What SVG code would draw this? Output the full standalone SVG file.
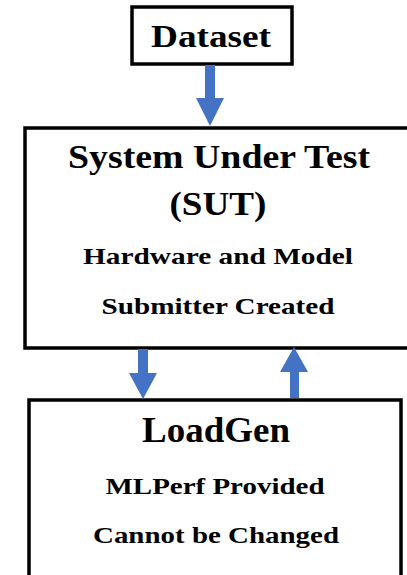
<svg xmlns="http://www.w3.org/2000/svg" width="407" height="575" viewBox="0 0 407 575">
<style>
.box{fill:#fff;stroke:#000;stroke-width:3.5}
.t{font-family:"Liberation Serif","Times New Roman",serif;font-weight:bold;fill:#000;text-anchor:middle}
.arr{fill:#4472C4}
</style>
<rect width="407" height="575" fill="#fff"/>
<g id="dataset">
<rect class="box" x="132" y="7" width="160" height="57"/>
<text class="t" x="211" y="47" font-size="32" textLength="120" lengthAdjust="spacingAndGlyphs">Dataset</text>
</g>
<g id="sut">
<rect class="box" x="25" y="128" width="390" height="220"/>
<text class="t" x="219" y="168" font-size="33" textLength="302" lengthAdjust="spacingAndGlyphs">System Under Test</text>
<text class="t" x="218" y="215" font-size="33" textLength="97" lengthAdjust="spacingAndGlyphs">(SUT)</text>
<text class="t" x="218" y="264" font-size="23" textLength="270" lengthAdjust="spacingAndGlyphs">Hardware and Model</text>
<text class="t" x="218" y="314" font-size="23" textLength="233" lengthAdjust="spacingAndGlyphs">Submitter Created</text>
</g>
<g id="loadgen">
<rect class="box" x="29" y="400" width="372" height="190" stroke-width="4"/>
<text class="t" x="216" y="442" font-size="35" textLength="148" lengthAdjust="spacingAndGlyphs">LoadGen</text>
<text class="t" x="215" y="494" font-size="23" textLength="219" lengthAdjust="spacingAndGlyphs">MLPerf Provided</text>
<text class="t" x="216" y="543" font-size="23" textLength="246" lengthAdjust="spacingAndGlyphs">Cannot be Changed</text>
</g>
<g id="connectors">
<polygon class="arr" points="205,65 215,65 215,98 224,98 210,126 196,98 205,98"/>
<polygon class="arr" points="138,349 148,349 148,373 157,373 143,399 129,373 138,373"/>
<polygon class="arr" points="290,398 299,398 299,372 308,372 294,347 280,372 290,372"/>
</g>
</svg>
